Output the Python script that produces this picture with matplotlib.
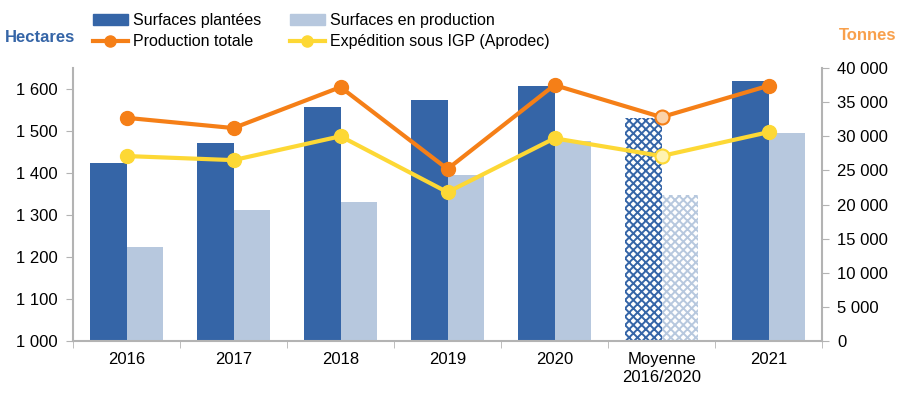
import numpy as np
import matplotlib.pyplot as plt
from matplotlib.lines import Line2D
from matplotlib.patches import Patch

plt.rcParams['font.family'] = ['Liberation Sans', 'DejaVu Sans']
plt.rcParams['hatch.linewidth'] = 1.4

categories = ['2016', '2017', '2018', '2019', '2020', 'Moyenne\n2016/2020', '2021']
surf_plantees = [1424, 1471, 1557, 1574, 1607, 1531, 1619]
surf_production = [1224, 1312, 1331, 1395, 1476, 1348, 1495]
production_totale = [32700, 31200, 37200, 25200, 37500, 32800, 37400]
expedition_igp = [27100, 26500, 30000, 21800, 29700, 27100, 30600]

dark = '#3565a7'
light = '#b7c8de'
orange = '#f57f17'
yellow = '#fdd835'
grey = '#b3b3b3'

fig = plt.figure(figsize=(9.06, 3.94), dpi=100)
ax = fig.add_axes([73/906, 1-341/394, 749/906, 273/394])
ax2 = ax.twinx()

x = np.arange(len(categories))
w = 0.34
moy = 5
for i in x:
    if i == moy:
        ax.bar(i - w/2, surf_plantees[i] - 1000, w, bottom=1000, color='white',
               edgecolor=dark, hatch='xxxx', linewidth=0)
        ax.bar(i + w/2, surf_production[i] - 1000, w, bottom=1000, color='white',
               edgecolor=light, hatch='xxxx', linewidth=0)
    else:
        ax.bar(i - w/2, surf_plantees[i] - 1000, w, bottom=1000, color=dark)
        ax.bar(i + w/2, surf_production[i] - 1000, w, bottom=1000, color=light)

ax2.plot(x, production_totale, color=orange, lw=3, marker='o', ms=10, zorder=3)
ax2.plot(x, expedition_igp, color=yellow, lw=3, marker='o', ms=10, zorder=3)
ax2.plot([moy], [production_totale[moy]], ls='none', marker='o', ms=10,
         mfc='#fbd2a8', mec=orange, mew=1.5, zorder=4)
ax2.plot([moy], [expedition_igp[moy]], ls='none', marker='o', ms=10,
         mfc='#fff3b0', mec=yellow, mew=1.5, zorder=4)

ax.set_xlim(-0.5, len(categories) - 0.5)
ax.set_ylim(1000, 1650)
ax2.set_ylim(0, 40000)
ax.set_yticks(np.arange(1000, 1601, 100))
ax.set_yticklabels([f'{v:,}'.replace(',', ' ') for v in range(1000, 1601, 100)])
ax2.set_yticks(np.arange(0, 40001, 5000))
ax2.set_yticklabels([f'{v:,}'.replace(',', ' ') for v in range(0, 40001, 5000)])

ax.set_xticks(x)
ax.set_xticklabels(categories)
ax.set_xticks(np.arange(-0.5, len(categories)), minor=True)
ax.tick_params(axis='x', which='major', length=0, pad=8, labelsize=12)
ax.tick_params(axis='x', which='minor', length=5, color=grey)
ax.tick_params(axis='y', length=5, color=grey, labelsize=12, pad=6)
ax2.tick_params(axis='y', length=5, color=grey, labelsize=12, pad=6)

for a in (ax, ax2):
    a.spines['top'].set_visible(False)
    for s in ('left', 'right', 'bottom'):
        a.spines[s].set_color(grey)
        a.spines[s].set_linewidth(1.5)
ax.spines['right'].set_visible(False)
ax2.spines['left'].set_visible(False)
ax2.spines['bottom'].set_visible(False)

fig.text(40/906, 1-38/394, 'Hectares', color=dark, fontsize=12, fontweight='bold',
         ha='center', va='center')
fig.text(868/906, 1-36/394, 'Tonnes', color='#f8a04c', fontsize=12, fontweight='bold',
         ha='center', va='center')

handles = [Patch(color=dark),
           Line2D([], [], color=orange, lw=3, marker='o', ms=8),
           Patch(color=light),
           Line2D([], [], color=yellow, lw=3, marker='o', ms=8)]
labels = ['Surfaces plantées', 'Production totale',
          'Surfaces en production', 'Expédition sous IGP (Aprodec)']
fig.legend(handles, labels, ncol=2, loc='upper left', bbox_to_anchor=(80/906, 1.0),
           frameon=False, fontsize=11.5, handlelength=2.2, handletextpad=0.3,
           columnspacing=1.8, labelspacing=0.4, borderaxespad=0.4)

fig.savefig('out.png', dpi=100)
